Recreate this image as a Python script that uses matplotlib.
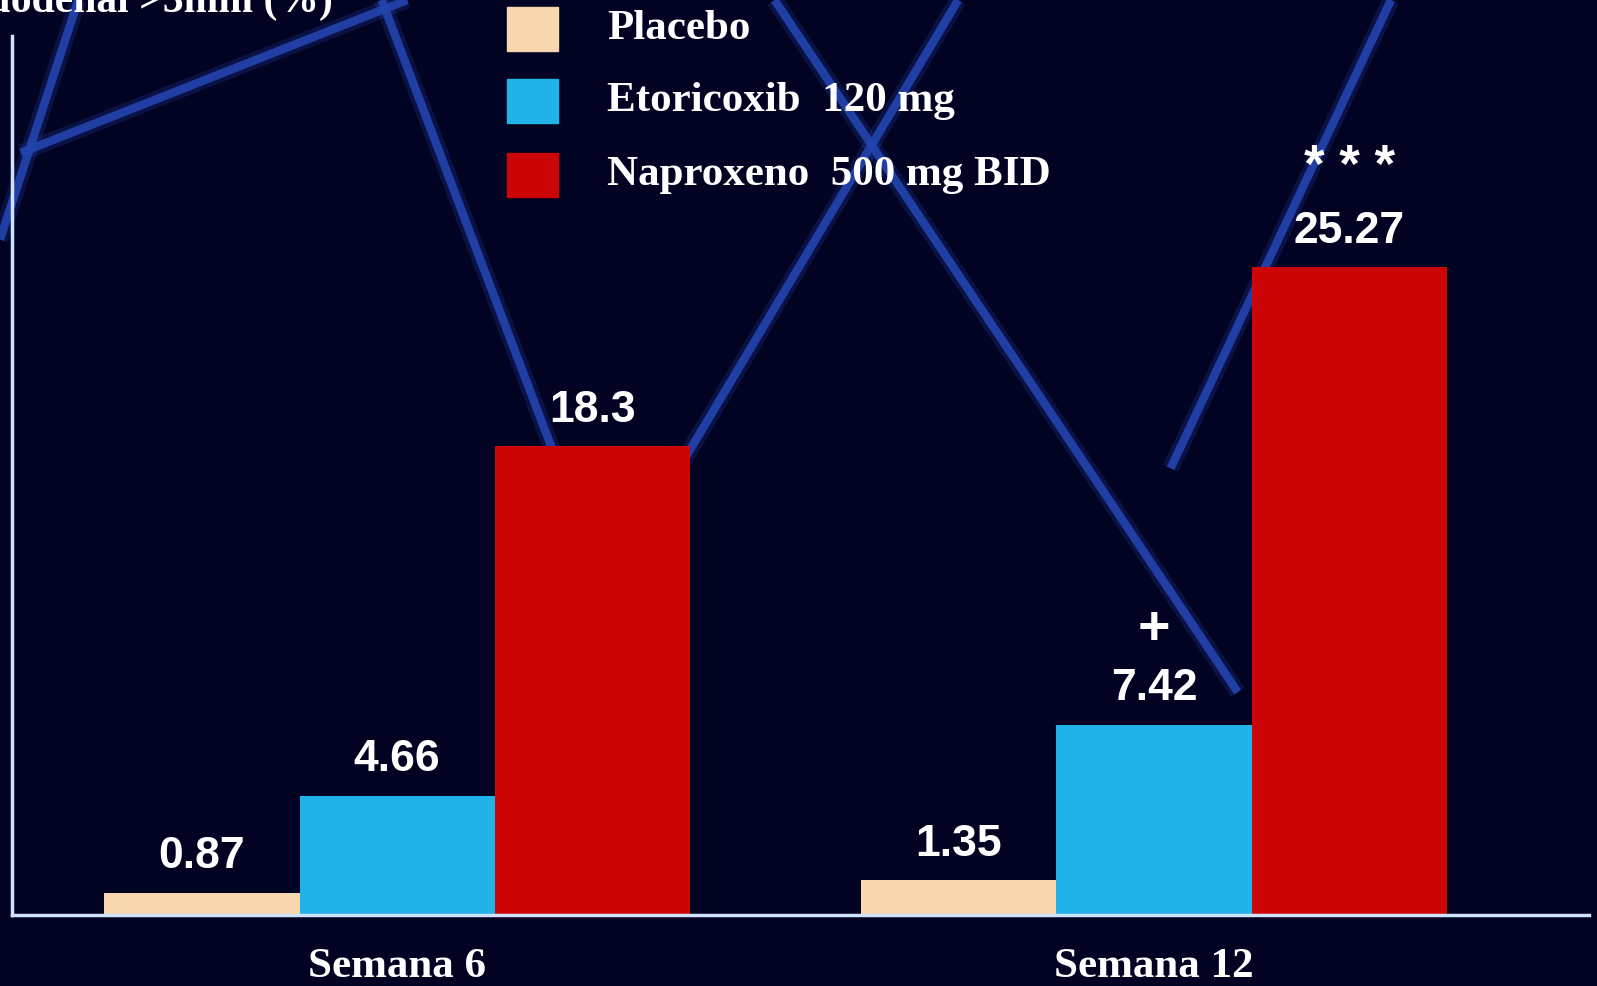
import matplotlib
matplotlib.use("Agg")
import matplotlib.pyplot as plt
import numpy as np
from matplotlib.lines import Line2D

# ---- data ----
weeks = ["Semana 6", "Semana 12"]
series = ["Placebo", "Etoricoxib  120 mg", "Naproxeno  500 mg BID"]
placebo = [0.87, 1.35]
etoricoxib = [4.66, 7.42]
naproxeno = [18.3, 25.27]
marks_etoricoxib = ["", "+"]
marks_naproxeno = ["", "* * *"]
ylabel = "Úlcera gastroduodenal >3mm (%)"

colors = ["#F9D7AE", "#22B2EA", "#CC0606"]
bg = "#020222"
axis_col = "#CFE3FF"
decor_col = "#2344AE"

W, H = 1597, 986
fig = plt.figure(figsize=(W / 100, H / 100), dpi=100, facecolor=bg)

# decorative background lines (slide design), figure fraction
decor_lines = [
    ((0.0, 0.757), (0.049, 1.0)),
    ((0.013, 0.845), (0.255, 1.0)),
    ((0.239, 1.0), (0.348, 0.535)),
    ((0.600, 1.0), (0.427, 0.530)),
    ((0.485, 1.0), (0.775, 0.298)),
    ((0.871, 1.0), (0.733, 0.525)),
]
for (x0, y0), (x1, y1) in decor_lines:
    fig.add_artist(Line2D([x0, x1], [y0, y1], transform=fig.transFigure,
                          color=decor_col, lw=12, alpha=0.25, zorder=0,
                          solid_capstyle="butt"))
    fig.add_artist(Line2D([x0, x1], [y0, y1], transform=fig.transFigure,
                          color=decor_col, lw=6, zorder=0, alpha=0.9,
                          solid_capstyle="butt"))

ax_left = 12 / W
ax_right = 1589 / W
ax_bottom = 1 - 915 / H
ax_top = 1 - 36 / H
ax = fig.add_axes([ax_left, ax_bottom, ax_right - ax_left, ax_top - ax_bottom])
ax.set_facecolor("none")
ax.patch.set_alpha(0)

x = np.arange(len(weeks))
bw = 0.258
offsets = [-bw, 0, bw]
vals = [placebo, etoricoxib, naproxeno]
for i, (v, c) in enumerate(zip(vals, colors)):
    ax.bar(x + offsets[i], v, width=bw, color=c, zorder=3, label=series[i])

ax.set_xlim(-0.509, 1.575)
ax.set_ylim(0, 34.3)

lab_font = dict(family=["Liberation Sans", "DejaVu Sans"], weight="bold",
                color="white", ha="center", va="bottom", zorder=5)
for i, v in enumerate(vals):
    for j, val in enumerate(v):
        ax.text(x[j] + offsets[i], val + 0.6, f"{val:g}", fontsize=32, **lab_font)
for j, m in enumerate(marks_etoricoxib):
    if m:
        ax.text(x[j] + offsets[1], etoricoxib[j] + 2.7, m, fontsize=40, **lab_font)
for j, m in enumerate(marks_naproxeno):
    if m:
        ax.text(x[j] + offsets[2], naproxeno[j] + 2.9, m, fontsize=38, **lab_font)

for s in ["top", "right"]:
    ax.spines[s].set_visible(False)
for s in ["left", "bottom"]:
    ax.spines[s].set_color(axis_col)
    ax.spines[s].set_linewidth(2.5)
ax.spines["left"].set_zorder(4)
ax.spines["bottom"].set_zorder(4)
ax.set_yticks([])
ax.set_xticks(x)
ax.set_xticklabels(weeks, family=["Liberation Serif", "DejaVu Serif"],
                   weight="bold", fontsize=31, color="white")
ax.tick_params(axis="x", length=0, pad=24)

# legend (manual, slide style)
leg_font = dict(family=["Liberation Serif", "DejaVu Serif"], weight="bold",
                color="white", fontsize=31, va="center", ha="left")
leg_y = [29, 101, 175]
for k, (name, c) in enumerate(zip(series, colors)):
    yc = 1 - leg_y[k] / H
    fig.patches.append(plt.Rectangle((507 / W, yc - 22 / H), 51 / W, 44 / H,
                                     transform=fig.transFigure, color=c, zorder=6))
    fig.text(607 / W, yc, name, zorder=6, **leg_font)

# y-axis label, clipped at top of slide (as in the photographed slide)
fig.text(333 / W, 1 - 12 / H, ylabel, family=["Liberation Serif", "DejaVu Serif"],
         weight="bold", color="white", fontsize=30, ha="right", va="baseline")

fig.savefig("out.png", dpi=100, facecolor=bg)
